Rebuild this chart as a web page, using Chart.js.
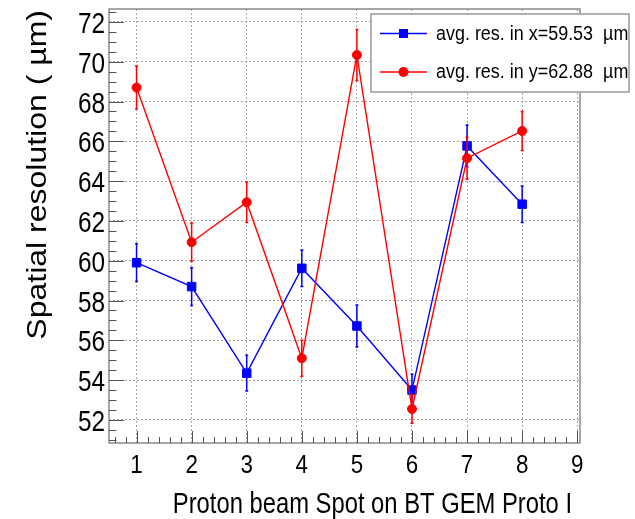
<!DOCTYPE html>
<html>
<head>
<meta charset="utf-8">
<script src="https://cdn.jsdelivr.net/npm/chart.js@4"></script>
<style>
  html, body { margin: 0; padding: 0; background: #fff; }
  #wrap { width: 635px; height: 519px; }
</style>
</head>
<body>
<div id="wrap"><canvas id="resChart" width="635" height="519"></canvas></div>
<script>
// Beam spot index and measured resolution per spot (um), with errors
const spots = [1, 2, 3, 4, 5, 6, 7, 8];
const resX = [59.9, 58.7, 54.35, 59.62, 56.72, 53.5, 65.77, 62.84];
const errX = [0.95, 0.95, 0.9, 0.92, 1.05, 0.8, 1.05, 0.92];
const resY = [68.7, 60.93, 62.94, 55.1, 70.34, 52.55, 65.15, 66.52];
const errY = [1.08, 0.96, 1.02, 0.9, 1.28, 0.72, 1.05, 0.98];

const seriesLabels = ['avg. res. in x=59.53  \u00b5m', 'avg. res. in y=62.88  \u00b5m'];
const xTitle = 'Proton beam Spot on BT GEM Proto I';
const yTitle = 'Spatial resolution ( \u00b5m)';

const FONT = "'Liberation Sans', Arial, sans-serif";
const BLUE = '#0000ff';
const RED = '#ff0000';

// text with independent x/y stretch (the labels are drawn a bit condensed)
function drawText(ctx, text, x, y, o) {
    ctx.save();
    ctx.translate(x, y);
    if (o.rot) ctx.rotate(o.rot);
    ctx.scale(o.sx || 1, o.sy || 1);
    ctx.font = o.size + 'px ' + FONT;
    ctx.fillStyle = o.color || '#000';
    ctx.textAlign = o.align || 'left';
    ctx.textBaseline = 'alphabetic';
    ctx.fillText(text, 0, 0);
    ctx.restore();
}

function toPoints(ys) {
    return spots.map((s, i) => ({ x: s, y: ys[i] }));
}

// vertical error bars, drawn just before each dataset so markers sit on top
const errorBars = {
    id: 'errorBars',
    beforeDatasetDraw(chart, args) {
        const ds = chart.data.datasets[args.index];
        const ys = chart.scales.y;
        const ctx = chart.ctx;
        ctx.save();
        ctx.strokeStyle = ds.borderColor;
        ctx.lineWidth = 1.5;
        args.meta.data.forEach((pt, i) => {
            const v = ds.data[i].y, e = ds.errors[i];
            const top = ys.getPixelForValue(v + e);
            const bot = ys.getPixelForValue(v - e);
            ctx.beginPath();
            ctx.moveTo(pt.x, top); ctx.lineTo(pt.x, bot);
            ctx.moveTo(pt.x - 1.5, top); ctx.lineTo(pt.x + 1.5, top);
            ctx.moveTo(pt.x - 1.5, bot); ctx.lineTo(pt.x + 1.5, bot);
            ctx.stroke();
        });
        ctx.restore();
    }
};

// frame, inward major/minor ticks, labels, titles and the legend box
const rootStyle = {
    id: 'rootStyle',
    afterDraw(chart) {
        const ctx = chart.ctx;
        const a = chart.chartArea;
        const xs = chart.scales.x, ys = chart.scales.y;

        ctx.save();
        ctx.strokeStyle = '#8a8a8a';
        ctx.lineWidth = 1.5;
        ctx.strokeRect(a.left, a.top, a.right - a.left, a.bottom - a.top);

        ctx.strokeStyle = '#555';
        ctx.lineWidth = 1;
        ctx.beginPath();
        for (let k = Math.ceil(xs.min / 0.2 - 1e-6); k * 0.2 <= xs.max + 1e-6; k++) {
            const px = Math.round(xs.getPixelForValue(k * 0.2)) + 0.5;
            const len = k % 5 === 0 ? 12 : 6;
            ctx.moveTo(px, a.bottom);
            ctx.lineTo(px, a.bottom - len);
        }
        for (let k = Math.ceil(ys.min / 0.5 - 1e-6); k * 0.5 <= ys.max + 1e-6; k++) {
            const py = Math.round(ys.getPixelForValue(k * 0.5)) + 0.5;
            const len = k % 4 === 0 ? 15 : 7.5;
            ctx.moveTo(a.left, py);
            ctx.lineTo(a.left + len, py);
        }
        ctx.stroke();
        ctx.restore();

        ys.ticks.forEach(t => {
            drawText(ctx, String(t.value), a.left - 4, ys.getPixelForValue(t.value) + 11,
                { size: 29, sx: 0.84, align: 'right' });
        });
        xs.ticks.forEach(t => {
            drawText(ctx, String(t.value), xs.getPixelForValue(t.value), 472.5,
                { size: 26, sx: 0.86, align: 'center' });
        });

        drawText(ctx, xTitle, 572, 512.5, { size: 29, sx: 0.82, align: 'right' });
        drawText(ctx, yTitle, 46, 10, { size: 32, sy: 0.84, rot: -Math.PI / 2, align: 'right' });

        // legend
        ctx.save();
        ctx.fillStyle = '#fff';
        ctx.fillRect(371, 14, 258, 78);
        ctx.strokeStyle = '#999';
        ctx.lineWidth = 1.5;
        ctx.strokeRect(371, 14, 258, 78);

        const rows = [33.5, 72];
        const colors = [BLUE, RED];
        rows.forEach((ry, i) => {
            ctx.strokeStyle = colors[i];
            ctx.fillStyle = colors[i];
            ctx.lineWidth = 1.5;
            ctx.beginPath();
            ctx.moveTo(380, ry);
            ctx.lineTo(427, ry);
            ctx.stroke();
            if (i === 0) {
                ctx.fillRect(403.5 - 4.5, ry - 4.5, 9, 9);
            } else {
                ctx.beginPath();
                ctx.arc(403.5, ry, 5, 0, Math.PI * 2);
                ctx.fill();
            }
            drawText(ctx, seriesLabels[i], 436, ry + 6, { size: 19.5, sx: 0.92 });
        });
        ctx.restore();
    }
};

const ctx = document.getElementById('resChart').getContext('2d');
const chart = new Chart(ctx, {
    type: 'scatter',
    data: {
        datasets: [
            {
                label: seriesLabels[0],
                data: toPoints(resX),
                errors: errX,
                showLine: true,
                borderColor: BLUE,
                backgroundColor: BLUE,
                borderWidth: 1.4,
                pointStyle: 'rect',
                pointRadius: 6,
                pointBorderWidth: 1,
                order: 2
            },
            {
                label: seriesLabels[1],
                data: toPoints(resY),
                errors: errY,
                showLine: true,
                borderColor: RED,
                backgroundColor: RED,
                borderWidth: 1.4,
                pointStyle: 'circle',
                pointRadius: 4.5,
                pointBorderWidth: 1,
                order: 1
            }
        ]
    },
    options: {
        responsive: false,
        animation: false,
        devicePixelRatio: 1,
        layout: { padding: { left: 0, top: 9, right: 55, bottom: 0 } },
        plugins: {
            legend: { display: false },
            tooltip: { enabled: false }
        },
        scales: {
            x: {
                type: 'linear',
                min: 0.5,
                max: 9.05,
                afterFit: s => { s.height = 76; },
                ticks: { stepSize: 1, includeBounds: false, display: false },
                grid: { color: '#a6a6a6', lineWidth: 1, drawTicks: false },
                border: { display: false, dash: [2, 2] }
            },
            y: {
                type: 'linear',
                min: 50.84,
                max: 72.65,
                afterFit: s => { s.width = 109; },
                ticks: { stepSize: 2, includeBounds: false, display: false },
                grid: { color: '#a6a6a6', lineWidth: 1, drawTicks: false },
                border: { display: false, dash: [2, 2] }
            }
        }
    },
    plugins: [errorBars, rootStyle]
});
</script>
</body>
</html>
